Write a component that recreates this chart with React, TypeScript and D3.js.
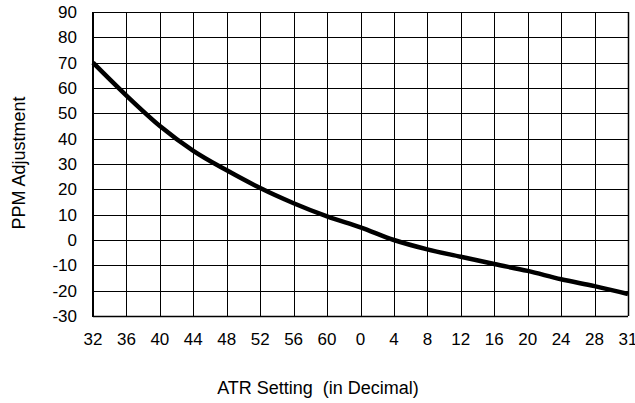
import React from "react";
import * as d3 from "d3";

const categories = ["32", "36", "40", "44", "48", "52", "56", "60", "0", "4", "8", "12", "16", "20", "24", "28", "31"];
const ppmValues = [70, 57, 45, 35.2, 27.5, 20.5, 14.5, 9.3, 5, 0, -3.7, -6.6, -9.5, -12.2, -15.5, -18.2, -21.3];
const yTicks = [90, 80, 70, 60, 50, 40, 30, 20, 10, 0, -10, -20, -30];

const W = 635, H = 403;
const left = 93, right = 628, top = 12, bottom = 316;

export default function App() {
  const x = d3.scalePoint<string>().domain(categories).range([left, right]);
  const y = d3.scaleLinear().domain([-30, 90]).range([bottom, top]);
  const line = d3
    .line<number>()
    .x((_, i) => x(categories[i]) as number)
    .y((d) => y(d))
    .curve(d3.curveMonotoneX);
  const font = "'Liberation Sans', Arial, sans-serif";
  return (
    <svg width={W} height={H} style={{ position: "absolute", left: 0, top: 0 }} fontFamily={font}>
      <rect x={0} y={0} width={W} height={H} fill="#fff" />
      {yTicks.map((t) => (
        <line key={"h" + t} x1={left} x2={right} y1={Math.round(y(t)) + 0.5} y2={Math.round(y(t)) + 0.5} stroke="#000" strokeWidth={1} />
      ))}
      {categories.map((c) => (
        <line key={"v" + c} x1={Math.round(x(c) as number) + 0.5} x2={Math.round(x(c) as number) + 0.5} y1={top} y2={bottom} stroke="#000" strokeWidth={1} />
      ))}
      <line x1={left} x2={left} y1={top} y2={bottom + 1} stroke="#000" strokeWidth={2} />
      <line x1={left} x2={right} y1={bottom + 0.5} y2={bottom + 0.5} stroke="#000" strokeWidth={1.5} />
      <line x1={right + 0.5} x2={right + 0.5} y1={top} y2={bottom} stroke="#000" strokeWidth={1.5} />
      <path d={line(ppmValues) || ""} fill="none" stroke="#000" strokeWidth={4.5} strokeLinejoin="round" />
      {yTicks.map((t) => (
        <text key={"yt" + t} x={77} y={y(t)} dy="0.35em" textAnchor="end" fontSize={17} fill="#000">
          {t}
        </text>
      ))}
      {categories.map((c) => (
        <text key={"xt" + c} x={x(c) as number} y={339} dy="0.35em" textAnchor="middle" fontSize={17} fill="#000">
          {c}
        </text>
      ))}
      <text x={318} y={388} dy="0.35em" textAnchor="middle" fontSize={18} fill="#000" style={{ whiteSpace: "pre" }}>
        {"ATR Setting  (in Decimal)"}
      </text>
      <text transform={`translate(19,${163}) rotate(-90)`} textAnchor="middle" dy="0.35em" fontSize={18} fill="#000">
        PPM Adjustment
      </text>
    </svg>
  );
}
